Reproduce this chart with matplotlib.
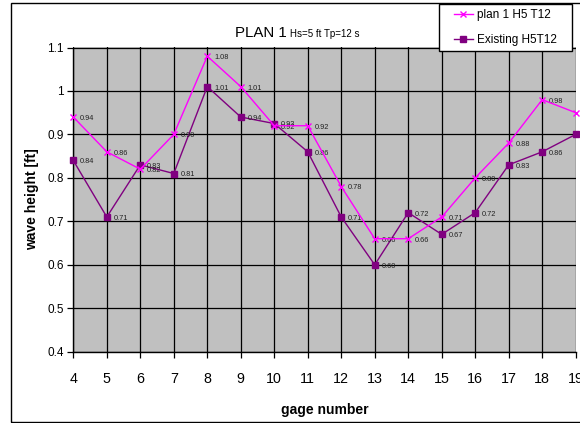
import matplotlib
matplotlib.use("Agg")
import matplotlib.pyplot as plt
from matplotlib.patches import Rectangle

plt.rcParams['font.family'] = ['Liberation Sans', 'DejaVu Sans']

gages = [4, 5, 6, 7, 8, 9, 10, 11, 12, 13, 14, 15, 16, 17, 18, 19]
plan1 = [0.94, 0.86, 0.82, 0.90, 1.08, 1.01, 0.92, 0.92, 0.78, 0.66, 0.66, 0.71, 0.80, 0.88, 0.98, 0.95]
existing = [0.84, 0.71, 0.83, 0.81, 1.01, 0.94, 0.925, 0.86, 0.71, 0.60, 0.72, 0.67, 0.72, 0.83, 0.86, 0.90]
yticks = [0.4, 0.5, 0.6, 0.7, 0.8, 0.9, 1.0, 1.1]
ytick_labels = ['0.4', '0.5', '0.6', '0.7', '0.8', '0.9', '1', '1.1']
series_names = ['plan 1 H5 T12', 'Existing H5T12']
title_main = 'PLAN 1'
title_sub = 'Hs=5 ft Tp=12 s'

W, H = 580, 423
fig = plt.figure(figsize=(W / 100, H / 100), dpi=100)
fig.patch.set_facecolor('white')

# outer chart border
fig.add_artist(Rectangle((11 / W, 1 - 422 / H), 1.2, (422 - 3) / H, transform=fig.transFigure,
                         fill=False, edgecolor='black', linewidth=1.0))

left, right, top, bottom = 73.3, 575.7, 47.5, 351.7
ax = fig.add_axes([left / W, 1 - bottom / H, (right - left) / W, (bottom - top) / H])
ax.set_facecolor('#C0C0C0')
ax.set_xlim(4, 19)
ax.set_ylim(0.4, 1.1)
ax.set_xticks(gages)
ax.set_yticks(yticks)
ax.set_yticklabels(ytick_labels)
ax.grid(True, color='black', linewidth=0.9)
ax.set_axisbelow(True)
for s in ['top', 'right']:
    ax.spines[s].set_visible(False)
for s in ['left', 'bottom']:
    ax.spines[s].set_color('black')
    ax.spines[s].set_linewidth(1.0)
ax.tick_params(axis='both', length=4, width=0.9, color='black', labelcolor='black')
ax.tick_params(axis='x', pad=10.5, labelsize=10.3)
ax.tick_params(axis='y', pad=3, labelsize=8.5)

l1, = ax.plot(gages, plan1, color='#FF00FF', marker='x', markersize=5, markeredgewidth=1.0,
              linewidth=1.0, clip_on=False, zorder=4, label=series_names[0])
l2, = ax.plot(gages, existing, color='#800080', marker='s', markersize=4, linewidth=1.0,
              clip_on=False, zorder=3, label=series_names[1])

for x, y in zip(gages, plan1):
    ax.annotate(f'{y:.2f}', (x, y), xytext=(5, -1), textcoords='offset points',
                fontsize=5.3, color='#222222', va='center', ha='left', annotation_clip=False)
for x, y in zip(gages, existing):
    ax.annotate(f'{y:.2f}', (x, y), xytext=(5, -1), textcoords='offset points',
                fontsize=5.3, color='#222222', va='center', ha='left', annotation_clip=False)

ax.set_xlabel('gage number', fontsize=10, fontweight='bold')
ax.xaxis.set_label_coords(0.5, -(403 - bottom) / (bottom - top))
ax.set_ylabel('wave height [ft]', fontsize=10, fontweight='bold', labelpad=6)

fig.text(235 / W, 1 - 36.7 / H, title_main, fontsize=10.8, va='baseline', ha='left')
fig.text(290 / W, 1 - 36.7 / H, title_sub, fontsize=7, va='baseline', ha='left')

# legend box
lx0, lx1, ly0, ly1 = 439, 572, 4, 51
fig.add_artist(Rectangle((lx0 / W, 1 - ly1 / H), (lx1 - lx0) / W, (ly1 - ly0) / H,
                         transform=fig.transFigure, facecolor='white', edgecolor='black',
                         linewidth=1.0, zorder=5))
leg = fig.legend(handles=[l1, l2], loc='center',
                 bbox_to_anchor=(lx0 / W, 1 - ly1 / H, (lx1 - lx0) / W, (ly1 - ly0) / H),
                 fontsize=8.5, frameon=False, handlelength=1.6,
                 handletextpad=0.35, borderpad=0, labelspacing=1.05, borderaxespad=0)
leg.set_zorder(6)

fig.savefig('out.png', dpi=100)
